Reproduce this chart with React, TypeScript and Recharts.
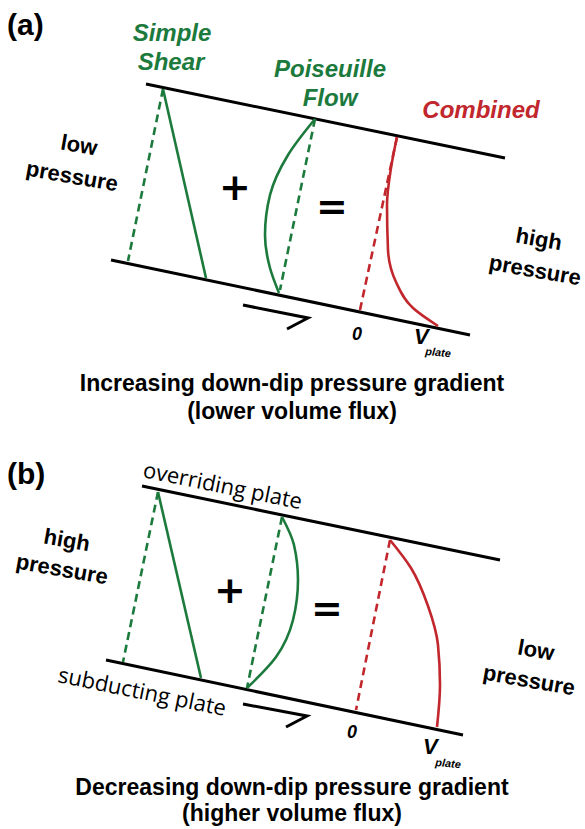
import { ComposedChart, Line, Scatter, XAxis, YAxis } from 'recharts';

const GREEN = '#1c7a3d';
const RED = '#c1272d';
const INK = '#000000';

// panel (a): plates, velocity profiles, sense-of-shear arrow
const topPlateA = [{ x: 146, y: 84 }, { x: 505, y: 158 }];
const botPlateA = [{ x: 111, y: 260 }, { x: 470, y: 335 }];
const shearA = [{ x: 163, y: 89 }, { x: 206, y: 278 }];
const shearRefA = [{ x: 163, y: 89 }, { x: 128, y: 261 }];
const poisA = [
  { x: 315, y: 119 }, { x: 288, y: 155 }, { x: 270, y: 195 },
  { x: 265, y: 235 }, { x: 270, y: 268 }, { x: 279, y: 293 },
];
const poisRefA = [{ x: 315, y: 119 }, { x: 280, y: 290 }];
const combA = [
  { x: 397, y: 137 }, { x: 391, y: 168 }, { x: 387, y: 205 },
  { x: 388, y: 250 }, { x: 396, y: 282 }, { x: 413, y: 308 }, { x: 438, y: 326 },
];
const combRefA = [{ x: 397, y: 137 }, { x: 360, y: 310 }];
const arrowA = [{ x: 243, y: 305 }, { x: 308, y: 318 }, { x: 287, y: 329 }];

// panel (b)
const topPlateB = [{ x: 142, y: 486 }, { x: 500, y: 560 }];
const botPlateB = [{ x: 106, y: 660 }, { x: 463, y: 735 }];
const shearB = [{ x: 158, y: 492 }, { x: 201, y: 678 }];
const shearRefB = [{ x: 158, y: 492 }, { x: 123, y: 662 }];
const poisB = [
  { x: 282, y: 517 }, { x: 294, y: 545 }, { x: 298, y: 580 },
  { x: 293, y: 620 }, { x: 276, y: 657 }, { x: 247, y: 688 },
];
const poisRefB = [{ x: 282, y: 517 }, { x: 247, y: 688 }];
const combB = [
  { x: 390, y: 540 }, { x: 411, y: 568 }, { x: 428, y: 606 },
  { x: 438, y: 645 }, { x: 440, y: 685 }, { x: 437, y: 727 },
];
const combRefB = [{ x: 390, y: 540 }, { x: 356, y: 710 }];
const arrowB = [{ x: 243, y: 704 }, { x: 307, y: 716 }, { x: 286, y: 727 }];

// text anchors
const panelTags = [{ x: 7, y: 35, label: '(a)' }, { x: 7, y: 484, label: '(b)' }];
const greenNames = [
  { x: 172, y: 41, label: 'Simple' }, { x: 171, y: 70, label: 'Shear' },
  { x: 330, y: 77, label: 'Poiseuille' }, { x: 330, y: 106, label: 'Flow' },
];
const redNames = [{ x: 481, y: 118, label: 'Combined' }];
const pressureWords = [
  { x: 79, y: 145, label: 'low' }, { x: 72, y: 176, label: 'pressure' },
  { x: 539, y: 239, label: 'high' }, { x: 535, y: 270, label: 'pressure' },
  { x: 67, y: 540, label: 'high' }, { x: 62, y: 569, label: 'pressure' },
  { x: 536, y: 650, label: 'low' }, { x: 529, y: 680, label: 'pressure' },
];
const operators = [
  { x: 235, y: 187, label: '+' }, { x: 332, y: 206, label: '=' },
  { x: 230, y: 590, label: '+' }, { x: 327, y: 608, label: '=' },
];
const zeroTicks = [{ x: 357, y: 340, label: '0' }, { x: 352, y: 738, label: '0' }];
const vTicks = [{ x: 414, y: 344, label: 'V' }, { x: 423, y: 754, label: 'V' }];
const vSubs = [{ x: 425, y: 355, label: 'plate' }, { x: 435, y: 766, label: 'plate' }];
const plateNames = [
  { x: 142, y: 477, label: 'overriding plate' },
  { x: 57, y: 682, label: 'subducting plate' },
];
const captions = [
  { x: 292, y: 391, label: 'Increasing down-dip pressure gradient' },
  { x: 292, y: 419, label: '(lower volume flux)' },
  { x: 292, y: 795, label: 'Decreasing down-dip pressure gradient' },
  { x: 292, y: 821, label: '(higher volume flux)' },
];

const SANS = '"Liberation Sans", Arial, sans-serif';

const textShape = (style: any, anchor = 'middle', angle = 0, baseline = 'auto') => (p: any) => (
  <text
    x={p.cx}
    y={p.cy}
    textAnchor={anchor}
    dominantBaseline={baseline}
    transform={angle ? `rotate(${angle} ${p.cx} ${p.cy})` : undefined}
    style={style}
  >
    {p.payload.label}
  </text>
);

const seg = (data: any[], color: string, dashed = false, width = 2.6, curve: any = 'linear') => (
  <Line
    data={data}
    dataKey="y"
    type={curve}
    stroke={color}
    strokeWidth={width}
    strokeDasharray={dashed ? '8 5' : undefined}
    dot={false}
    activeDot={false}
    isAnimationActive={false}
    strokeLinecap="butt"
  />
);

export default function App() {
  return (
    <div style={{ position: 'absolute', left: 0, top: 0, background: '#fff' }}>
      <ComposedChart width={585} height={829} margin={{ top: 0, right: 0, bottom: 0, left: 0 }}>
        <XAxis type="number" dataKey="x" domain={[0, 585]} hide allowDataOverflow />
        <YAxis type="number" dataKey="y" domain={[0, 829]} reversed hide allowDataOverflow />

        {seg(topPlateA, INK, false, 3)}
        {seg(botPlateA, INK, false, 3)}
        {seg(shearRefA, GREEN, true)}
        {seg(shearA, GREEN)}
        {seg(poisRefA, GREEN, true)}
        {seg(poisA, GREEN, false, 2.6, 'monotoneY')}
        {seg(combRefA, RED, true)}
        {seg(combA, RED, false, 2.6, 'monotoneY')}
        {seg(arrowA, INK, false, 3)}

        {seg(topPlateB, INK, false, 3)}
        {seg(botPlateB, INK, false, 3)}
        {seg(shearRefB, GREEN, true)}
        {seg(shearB, GREEN)}
        {seg(poisRefB, GREEN, true)}
        {seg(poisB, GREEN, false, 2.6, 'monotoneY')}
        {seg(combRefB, RED, true)}
        {seg(combB, RED, false, 2.6, 'monotoneY')}
        {seg(arrowB, INK, false, 3)}

        <Scatter data={panelTags} isAnimationActive={false}
          shape={textShape({ fontFamily: SANS, fontWeight: 700, fontSize: 30, fill: INK }, 'start')} />
        <Scatter data={greenNames} isAnimationActive={false}
          shape={textShape({ fontFamily: SANS, fontWeight: 700, fontStyle: 'italic', fontSize: 24, fill: GREEN })} />
        <Scatter data={redNames} isAnimationActive={false}
          shape={textShape({ fontFamily: SANS, fontWeight: 700, fontStyle: 'italic', fontSize: 24, fill: RED })} />
        <Scatter data={pressureWords} isAnimationActive={false}
          shape={textShape({ fontFamily: SANS, fontWeight: 700, fontSize: 22, fill: INK }, 'middle', 10, 'central')} />
        <Scatter data={operators} isAnimationActive={false}
          shape={textShape({ fontFamily: '"DejaVu Sans", sans-serif', fontWeight: 700, fontSize: 38, fill: INK }, 'middle', 0, 'central')} />
        <Scatter data={zeroTicks} isAnimationActive={false}
          shape={textShape({ fontFamily: SANS, fontWeight: 700, fontStyle: 'italic', fontSize: 18, fill: INK })} />
        <Scatter data={vTicks} isAnimationActive={false}
          shape={textShape({ fontFamily: SANS, fontWeight: 700, fontStyle: 'italic', fontSize: 22, fill: INK }, 'start')} />
        <Scatter data={vSubs} isAnimationActive={false}
          shape={textShape({ fontFamily: SANS, fontWeight: 700, fontStyle: 'italic', fontSize: 11, fill: INK }, 'start', 5)} />
        <Scatter data={plateNames} isAnimationActive={false}
          shape={textShape({ fontFamily: '"Open Sans", sans-serif', fontSize: 22, fill: INK }, 'start', 11.5)} />
        <Scatter data={captions} isAnimationActive={false}
          shape={textShape({ fontFamily: SANS, fontWeight: 700, fontSize: 23, fill: INK })} />
      </ComposedChart>
    </div>
  );
}
